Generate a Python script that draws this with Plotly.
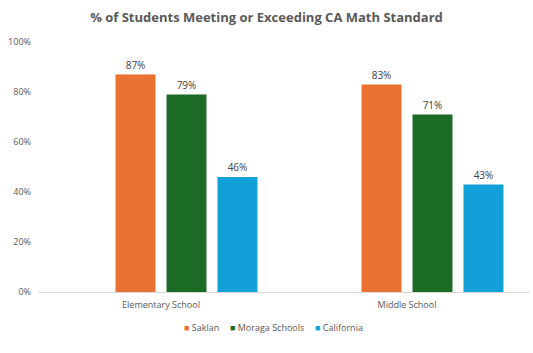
import plotly.graph_objects as go

categories = ["Elementary School", "Middle School"]
series_names = ["Saklan", "Moraga Schools", "California"]
saklan = [87, 83]
moraga = [79, 71]
california = [46, 43]
y_ticks = [0, 20, 40, 60, 80, 100]

colors = ["#E97132", "#1B6B25", "#11A0D7"]
values = [saklan, moraga, california]

fig = go.Figure()
# empty leading series (occupies the first slot in each group, as in the source chart)
fig.add_trace(go.Bar(x=[0, 1], y=[None, None], name="", showlegend=False, hoverinfo="skip"))
for name, vals, c in zip(series_names, values, colors):
    fig.add_trace(go.Bar(
        x=[0, 1], y=vals, name=name, marker=dict(color=c, line=dict(width=0)),
        text=[f"{v}%" for v in vals], textposition="outside",
        textfont=dict(family="Open Sans", size=10, color="#404040"),
        cliponaxis=False, showlegend=False,
    ))

# compact legend built from text
plot_l, plot_w, plot_b, plot_h = 38, 492, 292, 250
legend_x = [182, 228, 313]
for name, c, px in zip(series_names, colors, legend_x):
    fig.add_annotation(
        xref="paper", yref="paper", x=(px - plot_l) / plot_w, y=(plot_b - 327) / plot_h,
        xanchor="left", yanchor="middle", showarrow=False,
        text=f'<span style="color:{c}">■</span> {name}',
        font=dict(family="Open Sans", size=9, color="#595959"),
    )

fig.update_layout(
    width=533, height=353,
    margin=dict(l=38, r=3, t=42, b=61),
    paper_bgcolor="white", plot_bgcolor="white",
    barmode="group", bargap=0.171, bargroupgap=0.216,
    title=dict(text="<b>% of Students Meeting or Exceeding CA Math Standard</b>",
               x=0.5, xanchor="center", y=1 - 17/353, yanchor="middle",
               font=dict(family="Open Sans", size=13, color="#595959")),
    showlegend=False,
)
fig.update_xaxes(
    range=[-0.5, 1.5], tickvals=[0, 1], ticktext=categories,
    showline=True, linecolor="#D9D9D9", linewidth=1, showgrid=False, zeroline=False,
    ticks="", ticklabelstandoff=4, tickfont=dict(family="Open Sans", size=9, color="#595959"),
)
fig.update_yaxes(
    range=[0, 100], tickvals=y_ticks, ticktext=[f"{v}%" for v in y_ticks],
    showgrid=False, zeroline=False, showline=False, ticks="", ticklabelstandoff=6,
    tickfont=dict(family="Open Sans", size=9, color="#595959"),
)
fig.write_html("out.html")
